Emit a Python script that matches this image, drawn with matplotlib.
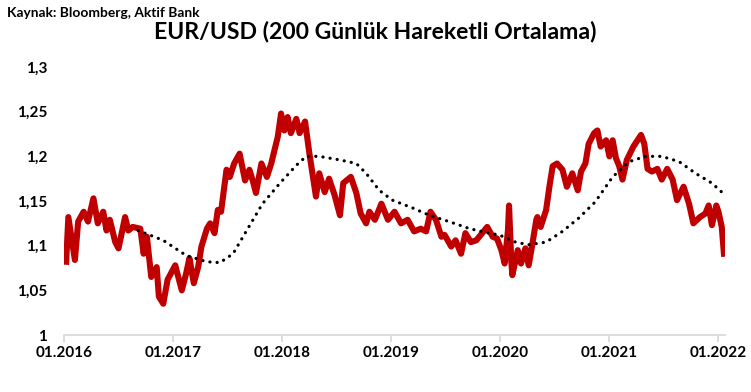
import matplotlib.pyplot as plt

plt.rcParams['font.family'] = ['Lato', 'DejaVu Sans']

# EUR/USD spot (time in decimal years)
eur_t = [2016.02, 2016.04, 2016.10, 2016.13, 2016.18, 2016.22, 2016.27, 2016.31,
         2016.36, 2016.39, 2016.42, 2016.47, 2016.50, 2016.56, 2016.59, 2016.63,
         2016.70, 2016.73, 2016.76, 2016.80, 2016.85, 2016.87, 2016.91, 2016.95,
         2017.02, 2017.08, 2017.12, 2017.15, 2017.19, 2017.23, 2017.26, 2017.31,
         2017.34, 2017.38, 2017.41, 2017.44, 2017.49, 2017.52, 2017.56, 2017.61,
         2017.66, 2017.70, 2017.73, 2017.76, 2017.81, 2017.86, 2017.90, 2017.93,
         2017.96, 2017.99, 2018.02, 2018.05, 2018.08, 2018.13, 2018.16, 2018.21,
         2018.25, 2018.31, 2018.34, 2018.39, 2018.43, 2018.48, 2018.53, 2018.56,
         2018.63, 2018.68, 2018.72, 2018.77, 2018.80, 2018.85, 2018.91, 2018.97,
         2019.03, 2019.09, 2019.15, 2019.21, 2019.27, 2019.32, 2019.36, 2019.41,
         2019.46, 2019.49, 2019.55, 2019.59, 2019.64, 2019.68, 2019.73, 2019.78,
         2019.82, 2019.88, 2019.93, 2019.97, 2020.01, 2020.04, 2020.07, 2020.08,
         2020.10, 2020.11, 2020.16, 2020.19, 2020.23, 2020.26, 2020.29, 2020.33,
         2020.34, 2020.37, 2020.42, 2020.45, 2020.48, 2020.52, 2020.57, 2020.61,
         2020.66, 2020.71, 2020.74, 2020.78, 2020.81, 2020.86, 2020.89, 2020.92,
         2020.97, 2021.00, 2021.03, 2021.06, 2021.09, 2021.12, 2021.16, 2021.22,
         2021.29, 2021.32, 2021.35, 2021.39, 2021.44, 2021.48, 2021.53, 2021.58,
         2021.62, 2021.68, 2021.73, 2021.77, 2021.83, 2021.88, 2021.91, 2021.94,
         2021.98, 2022.00, 2022.03, 2022.05]
eur_v = [1.082, 1.132, 1.084, 1.127, 1.138, 1.127, 1.153, 1.125,
         1.138, 1.117, 1.129, 1.104, 1.097, 1.132, 1.117, 1.121,
         1.119, 1.091, 1.110, 1.065, 1.076, 1.043, 1.035, 1.062,
         1.078, 1.050, 1.069, 1.086, 1.058, 1.076, 1.099, 1.119,
         1.125, 1.114, 1.140, 1.138, 1.185, 1.177, 1.192, 1.203,
         1.173, 1.185, 1.173, 1.159, 1.192, 1.177, 1.192, 1.207,
         1.222, 1.248, 1.229, 1.244, 1.226, 1.242, 1.226, 1.239,
         1.203, 1.155, 1.181, 1.160, 1.175, 1.157, 1.134, 1.170,
         1.177, 1.159, 1.136, 1.125, 1.138, 1.129, 1.147, 1.129,
         1.138, 1.125, 1.129, 1.116, 1.119, 1.116, 1.138, 1.129,
         1.110, 1.112, 1.099, 1.106, 1.091, 1.114, 1.104, 1.106,
         1.112, 1.121, 1.110, 1.108, 1.095, 1.080, 1.117, 1.145,
         1.084, 1.067, 1.095, 1.080, 1.097, 1.078, 1.099, 1.129,
         1.132, 1.121, 1.140, 1.166, 1.189, 1.192, 1.185, 1.166,
         1.181, 1.162, 1.183, 1.192, 1.214, 1.226, 1.229, 1.211,
         1.218, 1.200, 1.218, 1.198, 1.189, 1.174, 1.196, 1.211,
         1.224, 1.214, 1.186, 1.183, 1.186, 1.174, 1.186, 1.174,
         1.151, 1.166, 1.147, 1.125, 1.132, 1.136, 1.145, 1.123,
         1.145, 1.138, 1.121, 1.091]

# 200-day moving average
ma_t = [2016.68, 2016.91, 2017.12, 2017.31, 2017.43, 2017.55, 2017.67, 2017.82,
        2017.98, 2018.13, 2018.22, 2018.34, 2018.53, 2018.68, 2018.77, 2018.89,
        2019.01, 2019.20, 2019.35, 2019.53, 2019.72, 2019.90, 2019.99, 2020.14,
        2020.26, 2020.42, 2020.57, 2020.72, 2020.87, 2021.03, 2021.18, 2021.33,
        2021.48, 2021.64, 2021.79, 2021.94, 2022.03]
ma_v = [1.117, 1.106, 1.089, 1.082, 1.081, 1.091, 1.116, 1.147,
        1.170, 1.190, 1.200, 1.200, 1.196, 1.192, 1.181, 1.162,
        1.151, 1.142, 1.134, 1.127, 1.119, 1.114, 1.112, 1.104,
        1.101, 1.104, 1.116, 1.131, 1.149, 1.177, 1.194, 1.200,
        1.200, 1.194, 1.181, 1.170, 1.160]

years = [2016, 2017, 2018, 2019, 2020, 2021, 2022]
year_labels = ["01.2016", "01.2017", "01.2018", "01.2019", "01.2020", "01.2021", "01.2022"]
y_ticks = [1.0, 1.05, 1.1, 1.15, 1.2, 1.25, 1.3]
y_labels = ["1", "1,05", "1,1", "1,15", "1,2", "1,25", "1,3"]

fig = plt.figure(figsize=(7.51, 3.92), dpi=100)
ax = fig.add_axes([0.0852, 0.1454, 0.8802, 0.6836])

ax.plot(eur_t, eur_v, color="#c00000", lw=4.4, solid_joinstyle="round", zorder=2)
ax.plot(ma_t, ma_v, color="black", lw=2.3, linestyle=(0, (0.05, 2.2)),
        dash_capstyle="round", zorder=3)

ax.set_xlim(2016, 2022.06)
ax.set_ylim(1.0, 1.3)
ax.set_xticks(years)
ax.set_xticklabels(year_labels, fontsize=11, fontweight="bold")
ax.set_yticks(y_ticks)
ax.set_yticklabels(y_labels, fontsize=11, fontweight="bold")

for s in ["top", "right", "left"]:
    ax.spines[s].set_visible(False)
ax.spines["bottom"].set_color("#d9d9d9")
ax.spines["bottom"].set_linewidth(1.3)
ax.tick_params(axis="x", colors="#d9d9d9", length=5, width=1.3, pad=3, labelcolor="black")
ax.tick_params(axis="y", length=0, pad=12, labelcolor="black")

fig.text(0.5, 0.92, "EUR/USD (200 Günlük Hareketli Ortalama)", ha="center", va="center",
         fontsize=16.6, fontweight="bold")
fig.text(0.009, 0.968, "Kaynak: Bloomberg, Aktif Bank", ha="left", va="center",
         fontsize=9.9, fontweight="bold")

fig.savefig("out.png", dpi=100)
